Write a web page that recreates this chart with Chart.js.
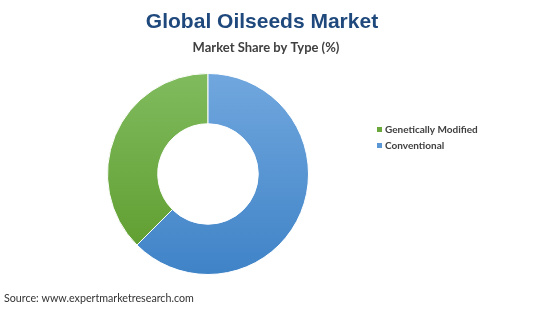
<!DOCTYPE html>
<html>
<head>
<meta charset="utf-8">
<script src="https://cdn.jsdelivr.net/npm/chart.js@4/dist/chart.umd.min.js"></script>
<style>
  html, body { margin: 0; padding: 0; background: #fff; }
  #wrap { width: 550px; height: 309px; position: relative; }
</style>
</head>
<body>
<div id="wrap"><canvas id="pieChart"></canvas></div>
<script>
const LABELS = ["Genetically Modified", "Conventional"];
const SHARES = [37.5, 62.5];
const TOP_COLORS = ["#80bb5e", "#71a7de"];
const BOTTOM_COLORS = ["#5c9b2b", "#3f83c7"];
const LEGEND_COLORS = ["#6aa83c", "#5b97d5"];

const gradientFill = ctx => {
    const area = ctx.chart.chartArea;
    if (!area) return TOP_COLORS[ctx.dataIndex];
    const g = ctx.chart.ctx.createLinearGradient(0, area.top, 0, area.bottom);
    g.addColorStop(0, TOP_COLORS[ctx.dataIndex]);
    g.addColorStop(1, BOTTOM_COLORS[ctx.dataIndex]);
    return g;
};

const textPlugin = {
    id: "textPlugin",
    afterDraw(chart) {
        const c = chart.ctx;
        c.save();
        c.textBaseline = "alphabetic";

        c.textAlign = "center";
        c.fillStyle = "#1f497d";
        c.font = "bold 21px 'Liberation Sans', Arial, sans-serif";
        c.fillText("Global Oilseeds Market", 262, 28);

        c.fillStyle = "#404040";
        c.font = "bold 13px Lato, 'Open Sans', sans-serif";
        c.fillText("Market Share by Type (%)", 266, 52);

        // legend
        c.textAlign = "left";
        c.font = "bold 10px Lato, 'Open Sans', sans-serif";
        LABELS.forEach((label, i) => {
            const y = 133 + i * 16;
            c.fillStyle = LEGEND_COLORS[i];
            c.fillRect(377, y - 6, 5, 5);
            c.fillStyle = "#404040";
            c.fillText(label, 385, y);
        });

        c.fillStyle = "#333333";
        c.font = "10.7px Lato, 'Open Sans', sans-serif";
        c.fillText("Source: www.expertmarketresearch.com", 4, 302);
        c.restore();
    }
};

const context = document.getElementById("pieChart").getContext("2d");
const myChart = new Chart(context, {
    type: "doughnut",
    data: {
        labels: LABELS,
        datasets: [
            {
                data: SHARES,
                backgroundColor: gradientFill,
                borderColor: "#ffffff",
                borderWidth: 1,
            },
        ],
    },
    options: {
        responsive: true,
        maintainAspectRatio: false,
        animation: false,
        rotation: 225,
        cutout: "50%",
        layout: {
            padding: { left: 107, right: 241, top: 73, bottom: 34 }
        },
        plugins: {
            legend: { display: false },
            tooltip: { enabled: false }
        }
    },
    plugins: [textPlugin]
});
</script>
</body>
</html>
